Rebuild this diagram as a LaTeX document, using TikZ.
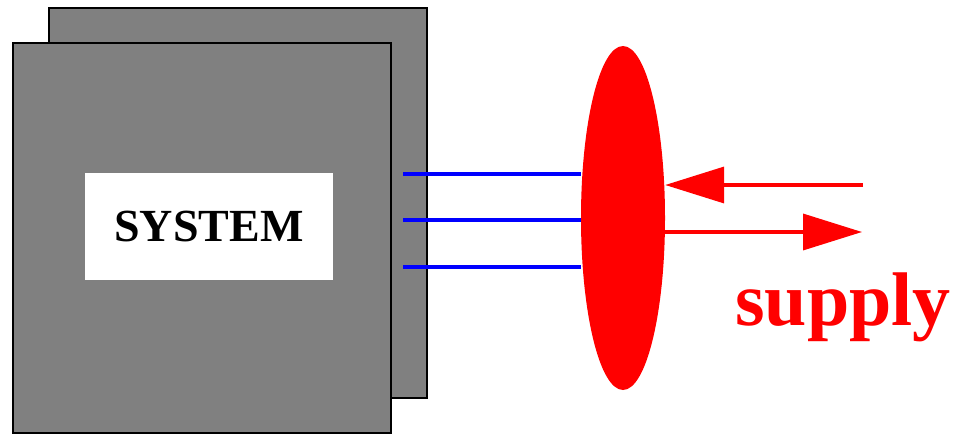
\documentclass[tikz,border=0pt]{standalone}
\usepackage{fontspec}
\setmainfont{Liberation Serif}
\usepackage{tikz}
\usetikzlibrary{arrows.meta, positioning, shapes.geometric}
\definecolor{sysgray}{HTML}{808080}

\begin{document}
\begin{tikzpicture}[x=1pt, y=-1pt,
    panel/.style={draw=black, line width=1.5pt, fill=sysgray,
                  minimum width=378pt, minimum height=390pt, inner sep=0pt},
    tag/.style={fill=white, minimum width=248pt, minimum height=107pt, inner sep=0pt,
                font=\fontsize{46}{48}\selectfont\bfseries},
    lens/.style={ellipse, fill=red, minimum width=84pt, minimum height=344pt, inner sep=0pt},
    wire/.style={blue, line width=3.5pt},
    flow/.style={-{Triangle[length=59pt, width=36pt]}, red, line width=3.5pt},
]
    \useasboundingbox (0,0) rectangle (953,436);

    \node[panel] (back) at (238, 203) {};
    \node[panel] (front) at (202, 238) {};
    \node[tag] (sys) at (209, 226.5) {SYSTEM};

    \node[lens] (lens) at (623, 218) {};

    % three wires into the lens
    \coordinate (w1) at (403, 174);
    \coordinate (w2) at (403, 220);
    \coordinate (w3) at (403, 267);
    \draw[wire] (w1) -- (w1 -| lens.west);
    \draw[wire] (w2) -- (w2 -| lens.west);
    \draw[wire] (w3) -- (w3 -| lens.west);

    % supply in and out
    \coordinate (in) at (863, 185);
    \coordinate (out) at (862, 232);
    \draw[flow] (in) -- (in -| lens.east);
    \draw[flow] (out -| lens.east) -- (out);

    \node[red, anchor=base, font=\fontsize{76}{78}\selectfont\bfseries] (supply) at (843, 325) {supply};
\end{tikzpicture}
\end{document}
